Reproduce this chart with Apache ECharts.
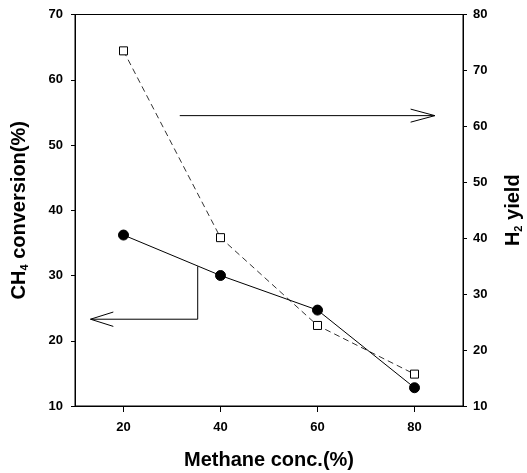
<!DOCTYPE html>
<html>
<head>
<meta charset="utf-8">
<script src="https://cdn.jsdelivr.net/npm/echarts@6/dist/echarts.min.js"></script>
<style>
html,body{margin:0;padding:0;background:#fff;}
#chart{width:527px;height:473px;}
</style>
</head>
<body>
<div id="chart"></div>
<script>
// ---- data ----
var methaneConc = [20, 40, 60, 80];
var ch4Conversion = [36.2, 30.0, 24.7, 12.8];
var h2Yield = [73.5, 40.1, 24.4, 15.7];
var xTicks = [20, 40, 60, 80];
// annotation arrows (in data units: x, left-axis y)
var arrowRightShaft = [[31.6, 54.5], [84.2, 54.5]];
var arrowRightHead = [[79.2, 55.5], [84.2, 54.5], [79.2, 53.5]];
var arrowLeftShaft = [[35.3, 31.4], [35.3, 23.3], [13.2, 23.3]];
var arrowLeftHead = [[17.9, 24.4], [13.2, 23.3], [17.9, 22.2]];

function pairs(xs, ys) { return xs.map(function (x, i) { return [x, ys[i]]; }); }

var font = 'Liberation Sans, Arial, Helvetica, sans-serif';
var labelStyle = { color: '#000', fontFamily: font, fontWeight: 'bold', fontSize: 13 };
var nameStyle = {
  color: '#000', fontFamily: font, fontWeight: 'bold', fontSize: 20,
  rich: { sub: { fontFamily: font, fontWeight: 'bold', fontSize: 11, verticalAlign: 'bottom', padding: [10, 0, 0, 0] } }
};

function arrowSeries(data) {
  return {
    type: 'line', yAxisIndex: 0, data: data, symbol: 'none', silent: true,
    lineStyle: { color: '#000', width: 1 }, z: 1
  };
}

var chart = echarts.init(document.getElementById('chart'), null, { renderer: 'canvas' });
chart.setOption({
  animation: false,
  backgroundColor: '#fff',
  grid: { left: 75, right: 64, top: 14.5, bottom: 67, containLabel: false, outerBoundsMode: 'none',
          show: true, borderColor: '#000', borderWidth: 1 },
  xAxis: {
    type: 'value', min: 10, max: 90,
    name: 'Methane conc.(%)', nameLocation: 'middle', nameGap: 44, nameTextStyle: nameStyle,
    axisLine: { show: true, lineStyle: { color: '#000', width: 1 } },
    axisTick: { show: true, length: 6, inside: false, customValues: xTicks, lineStyle: { color: '#000' } },
    axisLabel: Object.assign({ margin: 15, customValues: xTicks }, labelStyle),
    splitLine: { show: false }
  },
  yAxis: [
    {
      type: 'value', min: 10, max: 70, interval: 10, position: 'left',
      name: 'CH{sub|4} conversion(%)', nameLocation: 'middle', nameGap: 45, nameRotate: 90, nameTextStyle: nameStyle,
      axisLine: { show: true, lineStyle: { color: '#000', width: 1 } },
      axisTick: { show: true, length: 4, lineStyle: { color: '#000' } },
      axisLabel: Object.assign({ margin: 12 }, labelStyle),
      splitLine: { show: false }
    },
    {
      type: 'value', min: 10, max: 80, interval: 10, position: 'right',
      name: 'H{sub|2} yield', nameLocation: 'middle', nameGap: 40, nameRotate: 90, nameTextStyle: nameStyle,
      axisLine: { show: true, lineStyle: { color: '#000', width: 1 } },
      axisTick: { show: true, length: 4, lineStyle: { color: '#000' } },
      axisLabel: Object.assign({ margin: 10 }, labelStyle),
      splitLine: { show: false }
    }
  ],
  series: [
    arrowSeries(arrowRightShaft),
    arrowSeries(arrowRightHead),
    arrowSeries(arrowLeftShaft),
    arrowSeries(arrowLeftHead),
    {
      name: 'H2 yield', type: 'line', yAxisIndex: 1, data: pairs(methaneConc, h2Yield),
      symbol: 'rect', symbolSize: 8,
      itemStyle: { color: '#fff', borderColor: '#000', borderWidth: 1 },
      lineStyle: { color: '#333', width: 1, type: [6, 4] }, z: 2
    },
    {
      name: 'CH4 conversion', type: 'line', yAxisIndex: 0, data: pairs(methaneConc, ch4Conversion),
      symbol: 'circle', symbolSize: 10,
      itemStyle: { color: '#000', borderColor: '#000' },
      lineStyle: { color: '#000', width: 1 }, z: 3
    }
  ]
});
</script>
</body>
</html>
